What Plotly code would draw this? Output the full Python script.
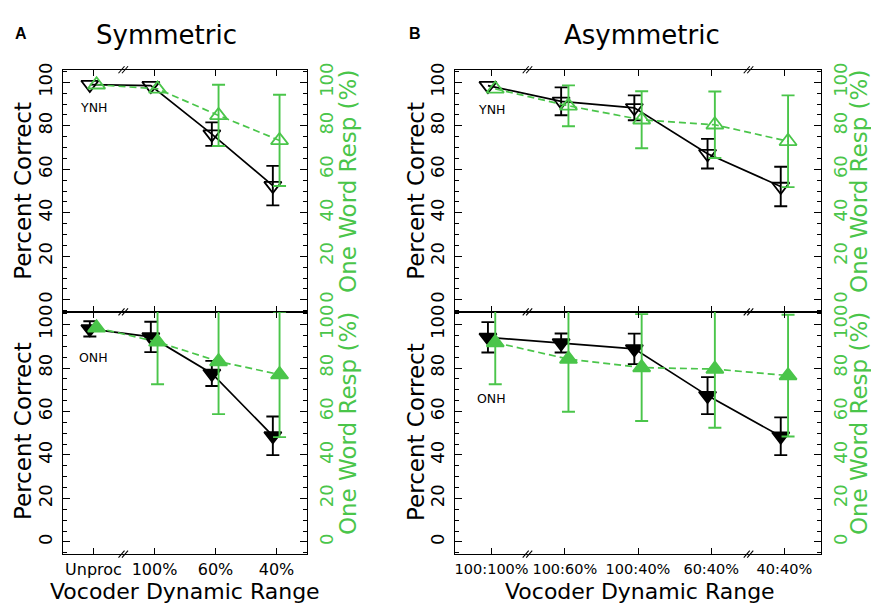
import plotly.graph_objects as go

# ---- category labels -------------------------------------------------------
sym_labels = ["Unproc", "100%", "60%", "40%"]
asym_labels = ["100:100%", "100:60%", "100:40%", "60:40%", "40:40%"]

# ---- Symmetric conditions --------------------------------------------------
# young normal-hearing listeners (YNH)
sym_ynh_pc = [99.0, 98.5, 76.2, 52.5]          # percent correct
sym_ynh_pc_err = [None, None, 5.4, 9.1]
sym_ynh_ow = [98.9, 97.0, 84.8, 73.3]          # one-word responses (%)
sym_ynh_ow_err = [None, None, 14.1, 21.0]
# older normal-hearing listeners (ONH)
sym_onh_pc = [98.0, 94.3, 77.5, 48.8]
sym_onh_pc_err = [3.5, 7.0, 5.8, 8.9]
sym_onh_ow = [98.5, 92.0, 83.0, 77.0]
sym_onh_ow_err = [None, 19.5, 24.2, 28.8]

# ---- Asymmetric conditions -------------------------------------------------
asym_ynh_pc = [98.5, 91.3, 88.3, 67.2, 52.1]
asym_ynh_pc_err = [None, 6.4, 5.7, 6.8, 9.1]
asym_ynh_ow = [97.0, 89.2, 82.8, 80.5, 72.9]
asym_ynh_ow_err = [None, 9.4, 13.1, 15.3, 21.1]
asym_onh_pc = [94.1, 91.5, 88.8, 67.3, 48.6]
asym_onh_pc_err = [7.0, 4.4, 7.0, 8.5, 8.7]
asym_onh_ow = [91.7, 84.1, 80.2, 79.5, 76.5]
asym_onh_ow_err = [19.2, 24.2, 24.6, 27.0, 28.0]

GREEN = "#4AC54A"
BLACK = "#000000"
FONT = "DejaVu Sans"
W, H = 871, 604

Y_RANGE = [-5.6, 105.8]
LEFT_DOM = [63 / W, 307 / W]
RIGHT_DOM = [455 / W, 821 / W]
TOP_DOM = [1 - 308.5 / H, 1 - 63.5 / H]
BOT_DOM = [1 - 553.5 / H, 1 - 308.5 / H]

fig = go.Figure()


def add_series(xs, ys, errs, xa, ya, color, symbol, dash):
    # error bars only where a spread was measured
    ex = [x for x, e in zip(xs, errs) if e is not None]
    ey = [y for y, e in zip(ys, errs) if e is not None]
    ee = [e for e in errs if e is not None]
    fig.add_trace(go.Scatter(
        x=ex, y=ey, mode="markers", xaxis=xa, yaxis=ya,
        marker=dict(size=1, color="rgba(0,0,0,0)"),
        error_y=dict(type="data", array=ee, color=color, thickness=1.9, width=6.5),
        hoverinfo="skip", showlegend=False))
    fig.add_trace(go.Scatter(
        x=xs, y=ys, mode="lines+markers", xaxis=xa, yaxis=ya,
        line=dict(color=color, width=1.7, dash=dash),
        marker=dict(symbol=symbol, size=15, color=color,
                    line=dict(color=color, width=1.8)),
        showlegend=False))


def positions(n, shift):
    return [i + shift for i in range(n)]


# symmetric, top (YNH) and bottom (ONH)
add_series(positions(4, -0.06), sym_ynh_pc, sym_ynh_pc_err, "x", "y", BLACK, "triangle-down-open", "solid")
add_series(positions(4, 0.05), sym_ynh_ow, sym_ynh_ow_err, "x", "y2", GREEN, "triangle-up-open", "7px,4px")
add_series(positions(4, -0.06), sym_onh_pc, sym_onh_pc_err, "x2", "y3", BLACK, "triangle-down", "solid")
add_series(positions(4, 0.05), sym_onh_ow, sym_onh_ow_err, "x2", "y4", GREEN, "triangle-up", "7px,4px")
# asymmetric
add_series(positions(5, -0.05), asym_ynh_pc, asym_ynh_pc_err, "x3", "y5", BLACK, "triangle-down-open", "solid")
add_series(positions(5, 0.05), asym_ynh_ow, asym_ynh_ow_err, "x3", "y6", GREEN, "triangle-up-open", "7px,4px")
add_series(positions(5, -0.05), asym_onh_pc, asym_onh_pc_err, "x4", "y7", BLACK, "triangle-down", "solid")
add_series(positions(5, 0.05), asym_onh_ow, asym_onh_ow_err, "x4", "y8", GREEN, "triangle-up", "7px,4px")


def x_axis(dom, anchor, labels, show, size):
    return dict(domain=dom, anchor=anchor, range=[-0.5, len(labels) - 0.5],
                tickvals=list(range(len(labels))), ticktext=labels,
                showticklabels=show, ticks="inside", ticklen=6, tickwidth=1.3,
                tickcolor=BLACK, showline=True, linecolor=BLACK, linewidth=1.3,
                mirror="ticks", showgrid=False, zeroline=False,
                tickfont=dict(family=FONT, size=size, color=BLACK),
                ticklabelstandoff=1)


def y_axis(dom, anchor, side, color, overlay=None):
    d = dict(anchor=anchor, range=Y_RANGE, side=side,
             tickvals=[0, 20, 40, 60, 80, 100], ticks="inside", ticklen=7,
             tickwidth=1.3, tickcolor=BLACK, showline=True, linecolor=BLACK,
             linewidth=1.3, showgrid=False, zeroline=False, tickangle=-90,
             tickfont=dict(family=FONT, size=18, color=color),
             ticklabelstandoff=3,
             minor=dict(ticks="inside", ticklen=3.5, tickwidth=1.2,
                        tickcolor=BLACK, tick0=0, dtick=5))
    if overlay:
        d["overlaying"] = overlay
    else:
        d["domain"] = dom
    return d


fig.update_layout(
    width=W, height=H, margin=dict(l=0, r=0, t=0, b=0),
    paper_bgcolor="white", plot_bgcolor="white", showlegend=False,
    xaxis=x_axis(LEFT_DOM, "y", sym_labels, False, 16),
    xaxis2=x_axis(LEFT_DOM, "y3", sym_labels, True, 16),
    xaxis3=x_axis(RIGHT_DOM, "y5", asym_labels, False, 14.5),
    xaxis4=x_axis(RIGHT_DOM, "y7", asym_labels, True, 14.5),
    yaxis=y_axis(TOP_DOM, "x", "left", BLACK),
    yaxis2=y_axis(None, "x", "right", GREEN, "y"),
    yaxis3=y_axis(BOT_DOM, "x2", "left", BLACK),
    yaxis4=y_axis(None, "x2", "right", GREEN, "y3"),
    yaxis5=y_axis(TOP_DOM, "x3", "left", BLACK),
    yaxis6=y_axis(None, "x3", "right", GREEN, "y5"),
    yaxis7=y_axis(BOT_DOM, "x4", "left", BLACK),
    yaxis8=y_axis(None, "x4", "right", GREEN, "y7"),
)

# axis-break marks "//" on the category axes
shapes = []
breaks = [("x", "y domain", 0.5, 1), ("x", "y domain", 0.5, 0), ("x2", "y3 domain", 0.5, 0),
          ("x3", "y5 domain", 0.5, 1), ("x3", "y5 domain", 0.5, 0), ("x4", "y7 domain", 0.5, 0),
          ("x3", "y5 domain", 3.52, 1), ("x3", "y5 domain", 3.52, 0), ("x4", "y7 domain", 3.52, 0)]
for xr, yr, xv, yv in breaks:
    for dx in (-2.5, 1.0):
        shapes.append(dict(type="line", xref=xr, yref=yr, xsizemode="pixel", ysizemode="pixel",
                           xanchor=xv, yanchor=yv, x0=dx - 3, x1=dx + 3, y0=-3.5, y1=3.5,
                           line=dict(color=BLACK, width=1.1), layer="above"))
fig.update_layout(shapes=shapes)


def ann(text, px, py, size, color=BLACK, angle=0, bold=False, family=FONT):
    return dict(text=f"<b>{text}</b>" if bold else text, x=px / W, y=1 - py / H,
                xref="paper", yref="paper", showarrow=False, textangle=angle,
                xanchor="center", yanchor="middle",
                font=dict(family=family, size=size, color=color))


annotations = [
    ann("A", 21, 27, 16, bold=True, family="Liberation Sans"),
    ann("B", 415, 27, 16, bold=True, family="Liberation Sans"),
    ann("Symmetric", 166.5, 28, 26),
    ann("Asymmetric", 642, 28, 26),
    ann("Percent Correct", 23, 186, 23, angle=-90),
    ann("Percent Correct", 23, 429, 23, angle=-90),
    ann("Percent Correct", 416, 186, 23, angle=-90),
    ann("Percent Correct", 416, 430, 23, angle=-90),
    ann("One Word Resp (%)", 348, 177, 23, GREEN, angle=-90),
    ann("One Word Resp (%)", 348, 422, 23, GREEN, angle=-90),
    ann("One Word Resp (%)", 859, 177, 23, GREEN, angle=-90),
    ann("One Word Resp (%)", 859, 422, 23, GREEN, angle=-90),
    ann("Vocoder Dynamic Range", 185, 591, 22),
    ann("Vocoder Dynamic Range", 640, 591, 22),
]
# group labels inside each panel
for xr, yr, yv, txt in [("x", "y", 88.4, "YNH"), ("x2", "y3", 85.0, "ONH"),
                        ("x3", "y5", 87.6, "YNH"), ("x4", "y7", 65.8, "ONH")]:
    annotations.append(dict(text=txt, x=0, y=yv, xref=xr, yref=yr, showarrow=False,
                            font=dict(family=FONT, size=12.5, color=BLACK)))
fig.update_layout(annotations=annotations)

fig.write_html("out.html")
